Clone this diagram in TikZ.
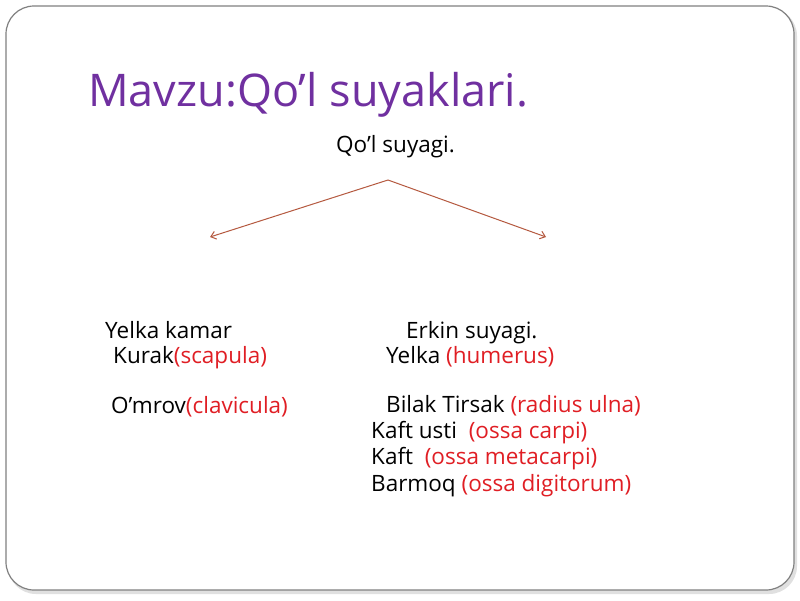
\documentclass[tikz,border=0pt]{standalone}
\usepackage{fontspec}
\setmainfont{Open Sans}
\usetikzlibrary{arrows.meta}
\definecolor{titlepurple}{HTML}{7030A0}
\definecolor{latred}{HTML}{E01E24}
\definecolor{arrowred}{HTML}{B5593F}
\definecolor{framegray}{RGB}{128,128,128}
\tikzset{
  body/.style={anchor=base west, inner sep=0pt, font=\fontsize{22.5}{27}\selectfont, text=black},
  titletext/.style={anchor=base west, inner sep=0pt, font=\fontsize{45}{53}\selectfont, text=titlepurple},
  branch/.style={draw=arrowred, line width=1pt, -{Straight Barb[length=5pt,width=8pt]}},
}
\newcommand{\lat}[1]{{\color{latred}#1}}
\begin{document}
\begin{tikzpicture}[x=1pt,y=-1pt]
\useasboundingbox (0,0) rectangle (800,600);
\fill[white] (0,0) rectangle (800,600);
% frame with shadow
\fill[black!12, rounded corners=28pt] (8,8) rectangle (797,594);
\draw[framegray, fill=white, line width=1.2pt, rounded corners=28pt] (6,6) rectangle (794,590);
% title
\node[titletext] (title) at (88,106) {Mavzu:Qo’l suyaklari.};
\node[body] (root) at (336,152) {Qo’l suyagi.};
% connectors
\coordinate (apex) at (388,180);
\coordinate (lend) at (210,237);
\coordinate (rend) at (546,237);
\draw[branch] (apex) -- (lend);
\draw[branch] (apex) -- (rend);
% left column
\node[body] (l1) at (105,338) {Yelka kamar};
\node[body] (l2) at (113,363) {Kurak\lat{(scapula)}};
\node[body] (l3) at (111,413) {O’mrov\lat{(clavicula)}};
% right column
\node[body] (r1) at (406,338) {Erkin suyagi.};
\node[body] (r2) at (386,363) {Yelka \lat{(humerus)}};
\node[body] (r3) at (386,412) {Bilak Tirsak \lat{(radius ulna)}};
\node[body] (r4) at (371,438) {Kaft usti\ \ \lat{(ossa carpi)}};
\node[body] (r5) at (371,464) {Kaft\ \ \lat{(ossa metacarpi)}};
\node[body] (r6) at (371,491) {Barmoq \lat{(ossa digitorum)}};
\end{tikzpicture}
\end{document}
